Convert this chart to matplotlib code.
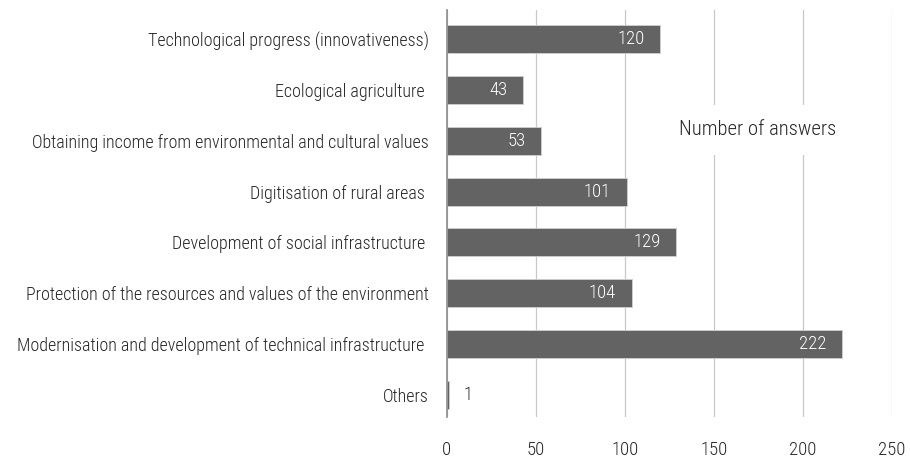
import matplotlib.pyplot as plt
from matplotlib import font_manager
import numpy as np

categories = [
    'Technological progress (innovativeness)',
    'Ecological agriculture ',
    'Obtaining income from environmental and cultural values',
    'Digitisation of rural areas ',
    'Development of social infrastructure ',
    'Protection of the resources and values of the environment',
    'Modernisation and development of technical infrastructure ',
    'Others',
]
answers = [120, 43, 53, 101, 129, 104, 222, 1]
xticks = [0, 50, 100, 150, 200, 250]

# condensed face if there is one, plain Roboto otherwise
names = {f.name for f in font_manager.fontManager.ttflist}
if 'Roboto Condensed' in names:
    family, cat_size, num_size = 'Roboto Condensed', 13.0, 13.5
else:
    family, cat_size, num_size = 'Roboto', 11.45, 12

plt.rcParams['font.family'] = [family, 'DejaVu Sans']
plt.rcParams['font.weight'] = 'light'
txt = '#262626'

fig = plt.figure(figsize=(9.1, 4.59), dpi=100)
ax = fig.add_axes([0.491, 0.0915, 0.489, 0.887])

ypos = np.arange(len(categories))
ax.barh(ypos, answers, height=0.55, color='#636363',
        edgecolor='#d0d0d0', linewidth=0.6, zorder=3)

for y, v in zip(ypos, answers):
    if v > 20:
        ax.annotate(str(v), (v, y), xytext=(-11.5, 0), textcoords='offset points',
                    ha='right', va='center', color='white', fontsize=num_size,
                    zorder=4)
    else:
        ax.annotate(str(v), (v, y), xytext=(11, 0), textcoords='offset points',
                    ha='left', va='center', color=txt, fontsize=num_size,
                    zorder=4)

ax.set_ylim(7.43, -0.57)
ax.set_xlim(0, 250)
ax.set_xticks(xticks)
ax.set_yticks(ypos)
ax.set_yticklabels(categories, fontsize=cat_size, color=txt)
ax.tick_params(axis='x', length=0, pad=17, labelsize=num_size, labelcolor=txt)
ax.tick_params(axis='y', length=0, pad=13)
ax.xaxis.grid(True, color='#c8c8c8', linewidth=0.9, zorder=0)
for s in ['top', 'right', 'bottom']:
    ax.spines[s].set_visible(False)
ax.spines['left'].set_color('#8c8c8c')
ax.spines['left'].set_linewidth(1.2)
ax.spines['left'].set_zorder(5)

ax.text(0.699, 0.705, 'Number of answers', transform=ax.transAxes,
        ha='center', va='center', fontsize=num_size * 1.1, color=txt,
        bbox=dict(facecolor='white', edgecolor='none', pad=11), zorder=6)

plt.savefig('out.png', dpi=100)
